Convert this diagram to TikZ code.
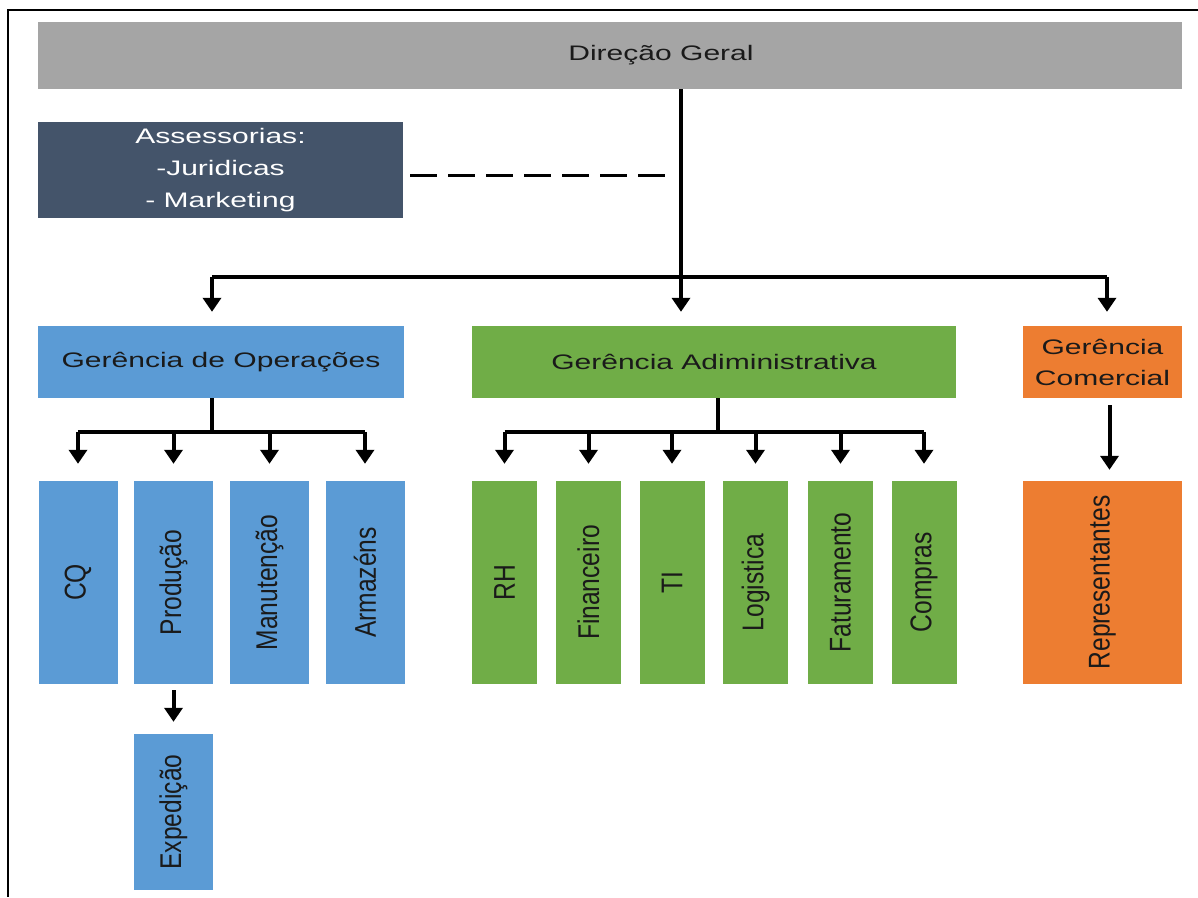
\documentclass[tikz,border=0pt]{standalone}
\usepackage{fontspec}
\setmainfont{Liberation Sans}[FakeStretch=1.43]
\newfontfamily\vertfont{Liberation Sans}[FakeStretch=0.82]
\usetikzlibrary{arrows.meta}

\definecolor{dgray}{HTML}{A5A5A5}
\definecolor{slate}{HTML}{44546A}
\definecolor{opblue}{HTML}{5B9BD5}
\definecolor{admgreen}{HTML}{70AD47}
\definecolor{comorange}{HTML}{ED7D31}
\definecolor{ink}{HTML}{1A1A1A}

\tikzset{
  box/.style={rectangle,inner sep=0pt,text=ink,font=\fontsize{21}{25}\selectfont,align=center},
  subbox/.style={box,rotate=90,font=\vertfont\fontsize{30}{34}\selectfont},
  bus/.style={line width=4pt,black},
  arrow/.style={bus,-{Triangle[width=18pt,length=14pt]}},
  dashline/.style={line width=3pt,black,dash pattern=on 27pt off 11pt}
}

\begin{document}
\begin{tikzpicture}[x=1pt,y=-1pt]
\useasboundingbox (0,0) rectangle (1198,897);

% frame
\draw[line width=2pt] (1198,9.5) -- (8,9.5) -- (8,897);

\node[box,fill=dgray,minimum width=1144pt,minimum height=67pt] (dg) at (610,55.5) {\hspace*{102pt}Direção Geral};
\node[box,fill=slate,text=white,minimum width=365pt,minimum height=96pt,font=\fontsize{21}{32}\selectfont] (ass) at (220.5,170) {Assessorias:\\-Juridicas\\- Marketing};

\node[box,fill=opblue,minimum width=366pt,minimum height=72pt] (op) at (221,362) {Gerência de Operações};
\node[box,fill=admgreen,minimum width=484pt,minimum height=72pt] (adm) at (714,362) {Gerência Adiministrativa};
\node[box,fill=comorange,minimum width=159pt,minimum height=72pt,font=\fontsize{21}{31}\selectfont] (com) at (1102.5,362) {Gerência\\Comercial};

\node[subbox,fill=opblue,minimum width=203pt,minimum height=79pt] (cq) at (78,582.5) {CQ};
\node[subbox,fill=opblue,minimum width=203pt,minimum height=79pt] (prod) at (173.5,582.5) {Produção};
\node[subbox,fill=opblue,minimum width=203pt,minimum height=79pt] (man) at (269.5,582.5) {Manutenção};
\node[subbox,fill=opblue,minimum width=203pt,minimum height=79pt] (arm) at (365,582.5) {Armazéns};
\node[subbox,fill=opblue,minimum width=156pt,minimum height=79pt] (exp) at (173.5,812) {Expedição};

\node[subbox,fill=admgreen,minimum width=203pt,minimum height=65pt] (rh) at (504.5,582.5) {RH};
\node[subbox,fill=admgreen,minimum width=203pt,minimum height=65pt] (fin) at (588.5,582.5) {Financeiro};
\node[subbox,fill=admgreen,minimum width=203pt,minimum height=65pt] (ti) at (672,582.5) {TI};
\node[subbox,fill=admgreen,minimum width=203pt,minimum height=65pt] (log) at (755.5,582.5) {Logistica};
\node[subbox,fill=admgreen,minimum width=203pt,minimum height=65pt] (fat) at (840.5,582.5) {Faturamento};
\node[subbox,fill=admgreen,minimum width=203pt,minimum height=65pt] (comp) at (924,582.5) {Compras};

\node[subbox,fill=comorange,minimum width=203pt,minimum height=159pt] (rep) at (1102.5,582.5) {Representantes};

% top level
\coordinate (dgbus) at (681,277);
\coordinate (busL) at (212,277);
\coordinate (busR) at (1107,277);
\draw[bus] (dg.south -| dgbus) -- (dgbus);
\draw[bus] (busL) -- (busR);
\draw[arrow,shorten >=14pt] (busL) -- (busL |- op.north);
\draw[arrow,shorten >=14pt] (dgbus) -- (dgbus |- adm.north);
\draw[arrow,shorten >=14pt] (busR) -- (busR |- com.north);
\draw[dashline,shorten <=7pt,shorten >=11pt] (ass.east |- 0,175) -- (dgbus |- 0,175);

% operacoes
\coordinate (opbus) at (212,432);
\draw[bus] (op.south -| opbus) -- (opbus);
\draw[bus] (cq.east |- opbus) -- (arm.east |- opbus);
\foreach \n in {cq,prod,man,arm}
  \draw[arrow,shorten >=17pt] (\n.east |- opbus) -- (\n.east);
\draw[arrow,shorten <=6pt,shorten >=12pt] (prod.west) -- (exp.east);

% administrativa
\coordinate (admbus) at (718,432);
\draw[bus] (adm.south -| admbus) -- (admbus);
\draw[bus] (rh.east |- admbus) -- (comp.east |- admbus);
\foreach \n in {rh,fin,ti,log,fat,comp}
  \draw[arrow,shorten >=17pt] (\n.east |- admbus) -- (\n.east);

% comercial
\draw[arrow,shorten <=7pt,shorten >=11pt] ([xshift=7pt]com.south) -- ([xshift=7pt]rep.east);

\end{tikzpicture}
\end{document}
